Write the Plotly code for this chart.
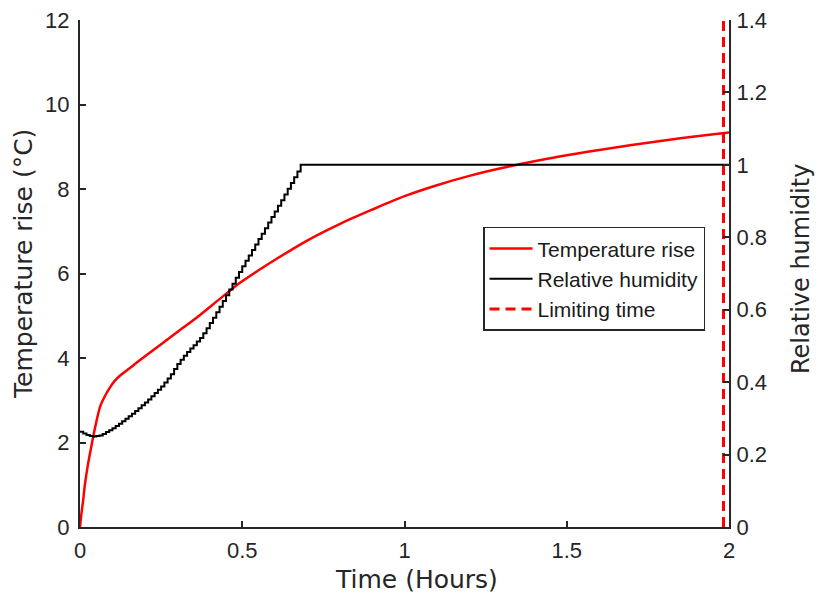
import plotly.graph_objects as go

# Temperature rise (°C) vs time (hours)
temp_t = [0, 0.005, 0.01, 0.015, 0.025, 0.036, 0.045, 0.062, 0.077, 0.092, 0.107, 0.123,
          0.14, 0.155, 0.185, 0.247, 0.308, 0.37, 0.431, 0.493, 0.555, 0.6, 0.7, 0.8,
          0.9, 1.0, 1.1, 1.2, 1.3, 1.4, 1.5, 1.6, 1.7, 1.8, 1.9, 2.0]
temp_v = [0, 0.35, 0.65, 1.0, 1.5, 1.95, 2.3, 2.85, 3.1, 3.3, 3.46, 3.58,
          3.68, 3.77, 3.95, 4.31, 4.66, 5.02, 5.4, 5.78, 6.1, 6.32, 6.78, 7.17,
          7.51, 7.83, 8.09, 8.31, 8.495, 8.655, 8.8, 8.925, 9.04, 9.15, 9.25, 9.34]

# Relative humidity (stepped) vs time (hours)
rh_t = [0.00, 0.01, 0.02, 0.03, 0.04, 0.05, 0.06, 0.07, 0.08, 0.09,
        0.10, 0.11, 0.12, 0.13, 0.14, 0.15, 0.16, 0.17, 0.18, 0.19,
        0.20, 0.21, 0.22, 0.23, 0.24, 0.25, 0.26, 0.27, 0.28, 0.29,
        0.30, 0.31, 0.32, 0.33, 0.34, 0.35, 0.36, 0.37, 0.38, 0.39,
        0.40, 0.41, 0.42, 0.43, 0.44, 0.45, 0.46, 0.47, 0.48, 0.49,
        0.50, 0.51, 0.52, 0.53, 0.54, 0.55, 0.56, 0.57, 0.58, 0.59,
        0.60, 0.61, 0.62, 0.63, 0.64, 0.65, 0.66, 0.67, 0.68, 2.0]
rh_v = [0.263, 0.258, 0.254, 0.251, 0.250, 0.251, 0.253, 0.257, 0.262, 0.267,
        0.273, 0.279, 0.285, 0.292, 0.299, 0.306, 0.313, 0.320, 0.328, 0.336,
        0.344, 0.352, 0.361, 0.370, 0.379, 0.388, 0.399, 0.410, 0.422, 0.436,
        0.450, 0.462, 0.473, 0.483, 0.493, 0.502, 0.512, 0.522, 0.535, 0.549,
        0.563, 0.578, 0.593, 0.608, 0.624, 0.640, 0.656, 0.672, 0.688, 0.704,
        0.720, 0.735, 0.750, 0.765, 0.780, 0.795, 0.810, 0.825, 0.841, 0.856,
        0.871, 0.887, 0.902, 0.918, 0.934, 0.950, 0.966, 0.982, 1.0, 1.0]

limit_time = 1.983

x_ticks = [0, 0.5, 1, 1.5, 2]
x_labels = ["0", "0.5", "1", "1.5", "2"]
y_ticks = [0, 2, 4, 6, 8, 10, 12]
y2_ticks = [0, 0.2, 0.4, 0.6, 0.8, 1.0, 1.2, 1.4]
y2_labels = ["0", "0.2", "0.4", "0.6", "0.8", "1", "1.2", "1.4"]

x_title = "Time (Hours)"
y_title = "Temperature rise (°C)"
y2_title = "Relative humidity"

axis_col = "#262626"
font_fam = "Liberation Sans, Arial, sans-serif"
title_fam = "DejaVu Sans, sans-serif"

fig = go.Figure()
fig.add_trace(go.Scatter(x=temp_t, y=temp_v, mode="lines", name="Temperature rise",
                         line=dict(color="#ff0000", width=2.5, shape="spline", smoothing=0.8)))
fig.add_trace(go.Scatter(x=rh_t, y=rh_v, mode="lines", name="Relative humidity",
                         line=dict(color="#000000", width=2, shape="hv"), yaxis="y2"))
fig.add_trace(go.Scatter(x=[limit_time, limit_time], y=[0, 12], mode="lines",
                         name="Limiting time",
                         line=dict(color="#ff0000", width=3, dash="10px,6px")))

axis_common = dict(showgrid=False, zeroline=False, showline=True, linecolor=axis_col,
                   linewidth=2, ticks="inside", ticklen=6, tickwidth=1.5,
                   tickcolor=axis_col, automargin=False,
                   tickfont=dict(size=22, color=axis_col))

fig.update_layout(
    width=816, height=603,
    margin=dict(l=80, r=87, t=20, b=76),
    paper_bgcolor="white", plot_bgcolor="white",
    font=dict(family=font_fam, size=22, color=axis_col),
    showlegend=True,
    legend=dict(x=0.621, y=0.592, xanchor="left", yanchor="top",
                bgcolor="white", bordercolor=axis_col, borderwidth=1.5,
                font=dict(size=21, color="#1a1a1a"), tracegroupgap=0,
                itemwidth=43),
    xaxis=dict(range=[0, 2], tickvals=x_ticks, ticktext=x_labels,
               ticklabelstandoff=3, **axis_common),
    yaxis=dict(range=[0, 12], tickvals=y_ticks,
               ticklabelstandoff=4, **axis_common),
    yaxis2=dict(range=[0, 1.4], tickvals=y2_ticks, ticktext=y2_labels,
                overlaying="y", side="right",
                ticklabelstandoff=1, **axis_common),
    annotations=[
        dict(text=x_title, xref="paper", yref="paper", x=(416 - 80) / 649,
             y=-(579 - 527) / 507, xanchor="center", yanchor="middle",
             showarrow=False, font=dict(family=title_fam, size=25, color=axis_col)),
        dict(text=y_title, xref="paper", yref="paper", x=-(80 - 23) / 649,
             y=(527 - 264) / 507, xanchor="center", yanchor="middle",
             textangle=-90, showarrow=False,
             font=dict(family=title_fam, size=25, color=axis_col)),
        dict(text=y2_title, xref="paper", yref="paper", x=(801 - 80) / 649,
             y=(527 - 269) / 507, xanchor="center", yanchor="middle",
             textangle=-90, showarrow=False,
             font=dict(family=title_fam, size=24, color=axis_col)),
    ],
)

fig.write_html("out.html", config={"displayModeBar": False},
               post_script="document.body.style.margin='0px';")
